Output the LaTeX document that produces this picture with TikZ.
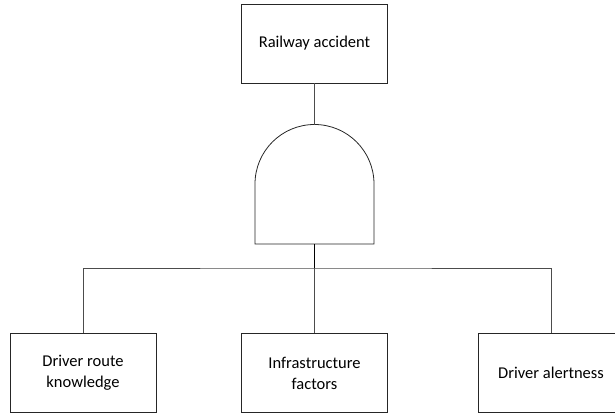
\documentclass[tikz,border=0pt]{standalone}
\usepackage{fontspec}
\setmainfont{Carlito}
\usepackage{tikz}
\usetikzlibrary{positioning}

\begin{document}
\begin{tikzpicture}[
            x=1pt, y=1pt,
            evt/.style={rectangle, draw=black!85, line width=0.8pt, minimum width=146pt, minimum height=79pt, align=center, font=\fontsize{16.5}{21}\selectfont},
            wire/.style={draw=black!70, line width=0.8pt}
        ]
            \useasboundingbox (0,0) rectangle (615,416);

            \node[evt] (acc) at (314.5,372.5) {Railway accident};
            \node[evt] (route) at (83,43) {Driver route\\knowledge};
            \node[evt] (infra) at (314.5,43) {Infrastructure\\factors};
            \node[evt] (alert) at (551,43) {Driver alertness};

            % and gate
            \coordinate (gtop) at (314.5,291.5);
            \coordinate (gbot) at (314.5,172);
            \coordinate (bus) at (314.5,148);
            \draw[wire, draw=black!85] (255,172) -- (255,232) arc[start angle=180, end angle=0, radius=59.5] -- (374,172) -- cycle;

            \draw[wire] (acc) -- (gtop);
            \draw[wire, draw=black, line width=1.2pt] (gbot) -- (bus);
            \draw[wire] (route.north) |- (bus) -| (alert.north);
            \draw[wire] (bus) -- (infra);
        \end{tikzpicture}
\end{document}
